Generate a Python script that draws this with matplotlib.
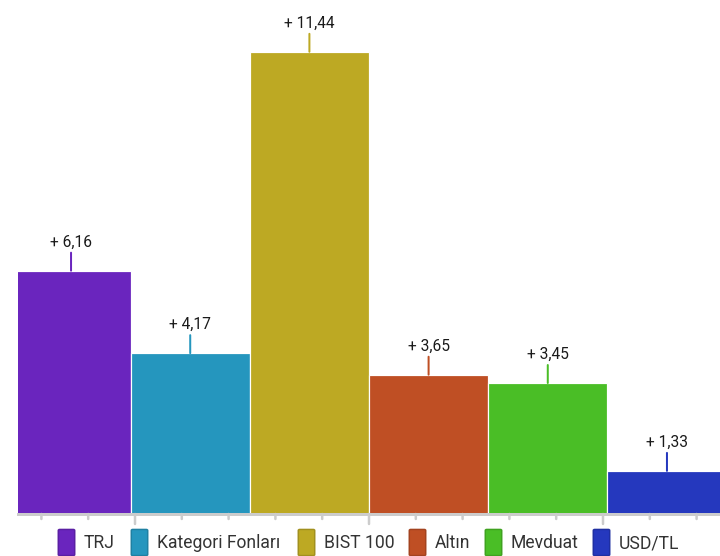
import matplotlib.pyplot as plt
from matplotlib.patches import FancyBboxPatch

# values
categories = ['TRJ', 'Kategori Fonları', 'BIST 100', 'Altın', 'Mevduat', 'USD/TL']
values = [6.16, 4.17, 11.44, 3.65, 3.45, 1.33]
labels = ['+ 6,16', '+ 4,17', '+ 11,44', '+ 3,65', '+ 3,45', '+ 1,33']
colors = ['#6a25be', '#2596be', '#bda923', '#bf4f24', '#4abe26', '#2538be']
edge_colors = ['#5a1fa3', '#1f80a2', '#a1901e', '#a3431f', '#3fa220', '#1f2fa2']

plt.rcParams['font.family'] = ['Roboto', 'DejaVu Sans']

# dpi 72 so that 1 pt == 1 px
fig = plt.figure(figsize=(10, 556 / 72), dpi=72)
W, H = 720, 556
ax = fig.add_axes([18 / W, (H - 514) / H, 702 / W, 514 / H])

x = list(range(len(values)))
ax.bar(x, values, width=1.0, color=colors, edgecolor='white', linewidth=1.2)

# value labels with a little stem above every bar
for xi, v, lab, c in zip(x, values, labels, colors):
    ax.annotate('', xy=(xi, v), xytext=(0, 18), textcoords='offset points',
                arrowprops=dict(arrowstyle='-', color=c, lw=2, shrinkA=0, shrinkB=0))
    ax.annotate(lab, xy=(xi, v), xytext=(0, 21), textcoords='offset points',
                ha='center', va='bottom', fontsize=15.5, color='#1a1a1a')

ax.set_xlim(-0.445, 5.445)
ax.set_ylim(0.29, 12.69)

for s in ['top', 'right', 'left']:
    ax.spines[s].set_visible(False)
ax.spines['bottom'].set_color('#cccccc')
ax.spines['bottom'].set_linewidth(3)
ax.set_yticks([])
ax.set_xticks([])

# tick marks along the bottom axis (axes fraction)
for k in range(15):
    fx = 1 / 30 + k / 15
    length = 10 if k in (2, 7, 12) else 5
    ax.annotate('', xy=(fx, 0), xycoords='axes fraction',
                xytext=(0, -length), textcoords='offset points',
                arrowprops=dict(arrowstyle='-', color='#cccccc', lw=2.5,
                                shrinkA=0, shrinkB=0))

# legend drawn by hand
square_x = [58, 131, 298, 409, 485, 593]
for sx, cat, c, ec in zip(square_x, categories, colors, edge_colors):
    box = FancyBboxPatch(((sx + 1) / W, 1 / H), 15 / W, 25 / H,
                         boxstyle='round,pad=0.001,rounding_size=0.002',
                         transform=fig.transFigure, facecolor=c, edgecolor=ec,
                         linewidth=1.5)
    fig.patches.append(box)
    fig.text((sx + 26) / W, (H - 543) / H, cat, fontsize=17.5, color='#333333',
             va='center', ha='left')

fig.savefig('out.png', dpi=72)
